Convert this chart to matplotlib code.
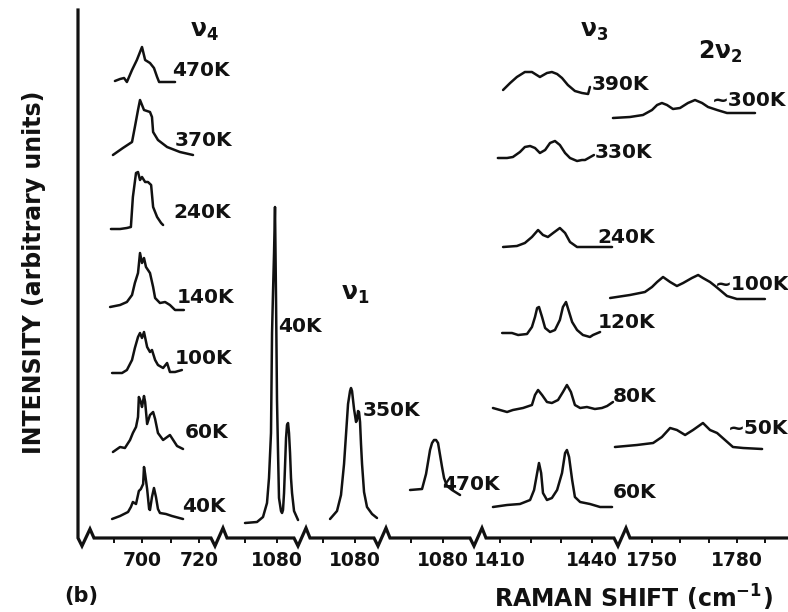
import numpy as np
import matplotlib
matplotlib.use("Agg")
import matplotlib.pyplot as plt
from matplotlib.lines import Line2D

# ---- nu4 band (690-720 cm-1), stacked by temperature ----
nu4_temps = ['470K', '370K', '240K', '140K', '100K', '60K', '40K']
nu4_offsets = [456, 383, 309, 231, 165, 86, 19]
nu4_x = [
    [690.5, 692.3, 693.7, 694.7, 696.5, 698.2, 700.0, 701.1, 702.8, 704.2, 705.3, 706.0, 711.6],
    [689.8, 693.3, 696.5, 697.5, 698.6, 699.3, 700.0, 700.7, 702.8, 703.5, 703.9, 705.6, 708.8,
     713.3, 717.9],
    [689.1, 692.3, 694.7, 696.1, 696.8, 697.9, 698.6, 699.3, 700.0, 701.1, 702.1, 703.2, 703.9,
     705.3, 706.7, 707.4],
    [688.8, 692.3, 694.7, 696.5, 697.5, 698.6, 699.3, 700.0, 700.7, 701.4, 702.8, 703.9, 704.6,
     706.3, 708.1, 709.8, 711.6, 714.7],
    [689.5, 693.0, 694.7, 696.5, 697.5, 698.6, 699.3, 700.0, 700.7, 701.8, 702.8, 703.5, 704.6,
     705.6, 707.4, 708.8, 709.8, 711.6, 714.0],
    [689.8, 692.3, 694.0, 695.8, 696.8, 697.9, 698.6, 698.9, 699.6, 700.0, 700.7, 701.1, 701.8,
     702.8, 703.9, 704.6, 705.6, 707.4, 709.8, 712.3, 714.4],
    [689.5, 692.3, 695.1, 696.1, 696.8, 697.9, 698.9, 699.6, 700.4, 700.7, 701.1, 701.8, 702.5,
     702.8, 703.5, 704.2, 704.9, 705.6, 706.3, 708.4, 710.5, 714.4],
]
nu4_y = [
    [1, 3, 4, 0, 12, 22, 35, 22, 19, 14, 5, 0, 0],
    [0, 7, 13, 28, 45, 55, 50, 45, 43, 38, 23, 15, 8, 3, 0],
    [0, 0, 1, 2, 32, 56, 57, 49, 52, 47, 47, 44, 22, 12, 6, 4],
    [0, 2, 5, 12, 24, 34, 54, 44, 49, 40, 34, 20, 9, 4, 5, 2, -3, -3],
    [0, 0, 3, 13, 25, 36, 40, 35, 41, 26, 21, 23, 13, 8, 5, 10, 1, 1, 3],
    [0, 5, 4, 12, 19, 25, 35, 55, 50, 45, 56, 50, 28, 37, 40, 33, 19, 12, 17, 6, 3],
    [0, 3, 7, 12, 17, 15, 28, 30, 35, 52, 45, 30, 10, 9, 22, 31, 22, 10, 6, 5, 3, 0],
]

# ---- nu1 band (~1080 cm-1), one panel per temperature ----
nu1_temps = ['40K', '350K', '470K']
nu1_offsets = [15, 19, 48]
nu1_x = [
    [1076.0, 1077.5, 1078.25, 1078.75, 1079.0, 1079.25, 1079.38, 1079.5, 1079.63, 1079.75,
     1079.88, 1080.0, 1080.13, 1080.25, 1080.5, 1080.63, 1080.75, 1080.88, 1081.0, 1081.13,
     1081.25, 1081.38, 1081.5, 1081.63, 1081.75, 1081.88, 1082.13, 1082.63],
    [1076.88, 1077.75, 1078.25, 1078.63, 1078.88, 1079.13, 1079.38, 1079.5, 1079.63, 1079.88,
     1080.13, 1080.25, 1080.38, 1080.5, 1080.63, 1080.75, 1080.88, 1081.13, 1081.5, 1082.13,
     1082.75],
    [1075.88, 1077.38, 1077.88, 1078.13, 1078.38, 1078.63, 1078.88, 1079.13, 1079.38, 1079.63,
     1079.88, 1080.13, 1080.5, 1081.13, 1082.13],
]
nu1_y = [
    [0, 1, 6, 20, 45, 90, 190, 230, 270, 316, 223, 123, 70, 25, 12, 10, 13, 30, 56, 85, 98, 100,
     90, 70, 45, 30, 12, 3],
    [0, 8, 24, 55, 85, 115, 128, 131, 128, 110, 97, 99, 108, 107, 97, 75, 55, 27, 12, 5, 1],
    [0, 1, 16, 28, 40, 47, 50, 50, 47, 35, 23, 12, 4, 0, -5],
]

# ---- nu3 band (1410-1440 cm-1) ----
nu3_temps = ['390K', '330K', '240K', '120K', '80K', '60K']
nu3_offsets = [444, 379, 291, 204, 129, 32]
nu3_x = [
    [1411.0, 1413.3, 1415.5, 1418.1, 1420.4, 1423.0, 1425.3, 1426.9, 1428.6, 1430.2, 1432.1,
     1434.4, 1436.7, 1438.7, 1439.3],
    [1409.3, 1412.3, 1414.2, 1416.5, 1418.1, 1419.8, 1421.4, 1423.0, 1424.7, 1426.3, 1427.9,
     1429.5, 1431.2, 1432.8, 1435.1, 1436.7, 1437.7, 1440.6],
    [1411.0, 1415.5, 1418.1, 1420.4, 1422.4, 1424.0, 1425.6, 1427.3, 1429.5, 1431.2, 1432.8,
     1435.1, 1437.0, 1439.3, 1446.5],
    [1410.7, 1413.9, 1415.9, 1418.8, 1420.4, 1421.4, 1422.1, 1422.7, 1423.7, 1424.7, 1426.3,
     1427.9, 1429.5, 1430.5, 1431.5, 1432.1, 1433.5, 1435.1, 1437.0, 1439.3, 1440.3, 1442.6],
    [1407.7, 1410.0, 1412.3, 1414.2, 1417.5, 1420.4, 1421.4, 1422.4, 1423.7, 1425.3, 1426.9,
     1428.9, 1430.5, 1431.8, 1433.1, 1434.4, 1436.1, 1438.3, 1440.9, 1443.2, 1444.9, 1446.8],
    [1407.7, 1412.3, 1416.5, 1419.8, 1421.1, 1422.1, 1422.7, 1423.4, 1424.0, 1425.3, 1426.9,
     1428.6, 1430.2, 1431.2, 1431.8, 1432.5, 1433.5, 1434.4, 1436.1, 1439.3, 1442.6, 1446.5],
]
nu3_y = [
    [4, 11, 17, 22, 22, 17, 21, 22, 20, 16, 9, 3, 1, 0, 7],
    [1, 1, 2, 7, 12, 13, 11, 6, 9, 16, 18, 14, 6, 1, -2, -1, -1, 4],
    [0, 1, 4, 10, 17, 12, 10, 14, 19, 14, 5, 0, 0, 0, 0],
    [1, 1, -1, 0, 7, 17, 26, 27, 17, 6, 2, 4, 14, 27, 32, 26, 12, 4, -1, -3, -1, 2],
    [1, -1, -3, -1, 1, 4, 14, 19, 14, 7, 6, 9, 17, 24, 17, 4, 1, 2, 0, 1, 3, 7],
    [-1, 1, 2, 6, 16, 33, 43, 33, 13, 6, 8, 16, 33, 53, 56, 49, 26, 9, 4, 2, -1, -1],
]

# ---- 2nu2 overtone (1750-1780 cm-1) ----
nu2_temps = ['~300K', '~100K', '~50K']
nu2_offsets = [420, 240, 91]
nu2_x = [
    [1736.2, 1742.2, 1746.8, 1750.0, 1751.8, 1753.5, 1755.3, 1757.4, 1759.9, 1762.7, 1765.2,
     1767.7, 1769.8, 1773.0, 1776.5, 1780.4, 1786.4],
    [1735.2, 1742.2, 1747.5, 1750.0, 1751.8, 1753.9, 1756.4, 1758.8, 1761.0, 1764.1, 1766.3,
     1768.0, 1770.5, 1772.3, 1774.0, 1776.5, 1780.0, 1789.9],
    [1736.9, 1744.7, 1750.4, 1753.5, 1756.4, 1758.8, 1761.7, 1764.5, 1768.0, 1770.5, 1773.0,
     1775.8, 1778.6, 1782.2, 1788.9],
]
nu2_y = [
    [0, 1, 3, 8, 13, 15, 13, 9, 10, 15, 18, 15, 11, 8, 5, 5, 5],
    [0, 3, 6, 11, 16, 21, 16, 12, 15, 20, 23, 20, 16, 12, 8, 2, -1, -1],
    [0, 2, 4, 10, 19, 17, 12, 17, 24, 17, 14, 7, 0, -1, -2],
]

# x-axis segments: ticks and the labels shown under them
seg_ticks = [[690, 700, 710, 720], [1076, 1080], [1076, 1080], [1076, 1080],
             [1410, 1420, 1430, 1440], [1750, 1760, 1770, 1780, 1790]]
seg_ticklabels = [['', '700', '', '720'], ['', '1080'], ['', '1080'], ['', '1080'],
                  ['1410', '', '', '1440'], ['1750', '', '', '1780', '']]

# ------------------------------------------------------------------
W, H = 788, 612
AX_Y, TOP_Y = 538, 10          # pixel rows of x axis and top of y axis
INK = '#111111'


def fx(px):
    return px / W


def fy(py):
    return 1 - py / H


# (left px, right px, reference wavenumber, its px, px per cm-1)
layout = [(78, 219, 700, 142, 2.85),
          (219, 302, 1080, 277, 8.0),
          (302, 382, 1080, 355, 8.0),
          (382, 478, 1080, 443, 8.0),
          (478, 622, 1410, 500, 3.07),
          (622, 788, 1750, 652, 2.83)]

fig = plt.figure(figsize=(W / 100, H / 100), dpi=100)
axes = []
for (x0, x1, w0, p0, scale), ticks, labels in zip(layout, seg_ticks, seg_ticklabels):
    ax = fig.add_axes([fx(x0), fy(AX_Y), (x1 - x0) / W, (AX_Y - TOP_Y) / H])
    ax.set_xlim(w0 + (x0 - p0) / scale, w0 + (x1 - p0) / scale)
    ax.set_ylim(0, AX_Y - TOP_Y)
    ax.patch.set_alpha(0)
    for s in ax.spines.values():
        s.set_visible(False)
    ax.set_yticks([])
    ax.set_xticks(ticks)
    ax.set_xticklabels(labels, fontweight='bold')
    ax.tick_params(axis='x', direction='out', length=3.5, width=1.4, color=INK,
                   pad=6, labelsize=13.5, labelcolor=INK)
    axes.append(ax)

line_kw = dict(color=INK, lw=1.8, clip_on=False, solid_joinstyle='round',
               solid_capstyle='round')

for x, y, off in zip(nu4_x, nu4_y, nu4_offsets):
    axes[0].plot(x, np.array(y) + off, **line_kw)
for ax, x, y, off in zip(axes[1:4], nu1_x, nu1_y, nu1_offsets):
    ax.plot(x, np.array(y) + off, **line_kw)
for x, y, off in zip(nu3_x, nu3_y, nu3_offsets):
    axes[4].plot(x, np.array(y) + off, **line_kw)
for x, y, off in zip(nu2_x, nu2_y, nu2_offsets):
    axes[5].plot(x, np.array(y) + off, **line_kw)

# axis frame with break marks
frame = [(78, TOP_Y), (78, AX_Y), (82, 546), (90, 529), (94, AX_Y)]
for c in [219, 302, 382, 478, 622]:
    frame += [(c - 8, AX_Y), (c - 4, 546), (c + 4, 528), (c + 8, AX_Y)]
frame.append((W, AX_Y))
fig.add_artist(Line2D([fx(p[0]) for p in frame], [fy(p[1]) for p in frame],
                      transform=fig.transFigure, color=INK, lw=2.3,
                      solid_joinstyle='miter'))

# temperature labels
lab_kw = dict(fontsize=14.5, fontweight='bold', color=INK, ha='left', va='center')
nu4_pos = [(172, 70), (175, 140), (173, 213), (177, 297), (175, 358), (185, 433), (182, 506)]
nu1_pos = [(278, 327), (363, 410), (442, 484)]
nu3_pos = [(592, 84), (595, 152), (597, 238), (598, 323), (613, 396), (613, 493)]
nu2_pos = [(712, 100), (715, 285), (728, 429)]
for temps, pos in [(nu4_temps, nu4_pos), (nu1_temps, nu1_pos),
                   (nu3_temps, nu3_pos), (nu2_temps, nu2_pos)]:
    for t, (px, py) in zip(temps, pos):
        fig.text(fx(px), fy(py), t, **lab_kw)

# band labels
band_kw = dict(fontsize=17, color=INK, ha='center', va='center')
fig.text(fx(204), fy(31), r'$\mathbf{\nu_4}$', **band_kw)
fig.text(fx(355), fy(294), r'$\mathbf{\nu_1}$', **band_kw)
fig.text(fx(594), fy(31), r'$\mathbf{\nu_3}$', **band_kw)
fig.text(fx(720), fy(52), r'$\mathbf{2\nu_2}$', **band_kw)

fig.text(fx(34), fy(272), 'INTENSITY (arbitrary units)', rotation=90, fontsize=17,
         fontweight='bold', color=INK, ha='center', va='center')
fig.text(fx(633), fy(598), r'RAMAN SHIFT (cm$^{\mathbf{-1}}$)', fontsize=17,
         fontweight='bold', color=INK, ha='center', va='center')
fig.text(fx(81), fy(596), '(b)', fontsize=15, fontweight='bold', color=INK,
         ha='center', va='center')

fig.savefig('out.png', dpi=100)
